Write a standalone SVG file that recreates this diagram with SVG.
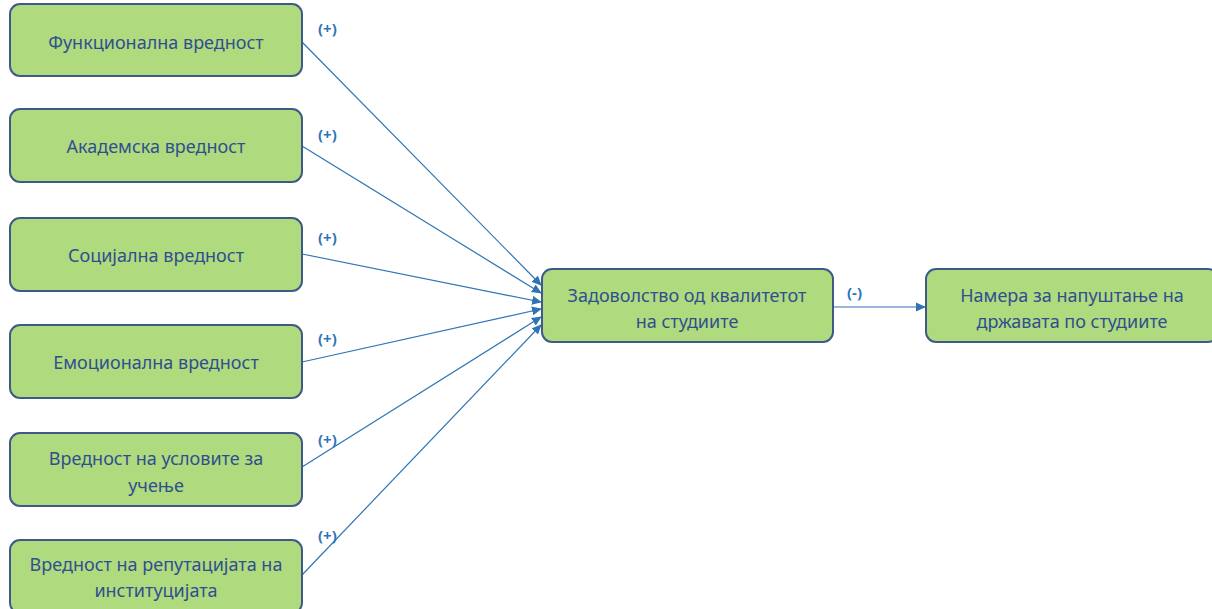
<svg xmlns="http://www.w3.org/2000/svg" width="1212" height="609" viewBox="0 0 1212 609">
<style>
.box{fill:#AFDA7E;stroke:#3F5A8A;stroke-width:2}
.t{font-family:"Noto Sans","Liberation Sans",sans-serif;font-size:18px;fill:#2F4F8F;text-anchor:middle;dominant-baseline:central}
.lab{font-family:"Noto Sans","Liberation Sans",sans-serif;font-size:15px;font-weight:bold;fill:#2E75B6;dominant-baseline:central}
.c{stroke:#2E75B6;stroke-width:1.2;fill:none;marker-end:url(#ah)}
</style>
<defs>
<marker id="ah" markerWidth="10" markerHeight="10" refX="9" refY="5" orient="auto" markerUnits="userSpaceOnUse">
<path d="M0,0.5 L10,5 L0,9.5 Z" fill="#2E75B6"/>
</marker>
</defs>
<rect width="1212" height="609" fill="#fff"/>
<g id="connectors">
<line class="c" x1="302" y1="42" x2="541" y2="285"/>
<line class="c" x1="302" y1="146" x2="541" y2="293"/>
<line class="c" x1="302" y1="254" x2="541" y2="302"/>
<line class="c" x1="302" y1="362" x2="541" y2="309"/>
<line class="c" x1="302" y1="467" x2="541" y2="317"/>
<line class="c" x1="302" y1="575" x2="541" y2="325"/>
<line class="c" x1="834" y1="307" x2="925" y2="307"/>
<text class="lab" x="318" y="28">(+)</text>
<text class="lab" x="318" y="134">(+)</text>
<text class="lab" x="318" y="237">(+)</text>
<text class="lab" x="318" y="338">(+)</text>
<text class="lab" x="318" y="439">(+)</text>
<text class="lab" x="318" y="535">(+)</text>
<text class="lab" x="847" y="292">(-)</text>
</g>
<g id="n1"><rect class="box" x="10" y="4" width="292" height="72" rx="10"/><text class="t" x="156" y="42">Функционална вредност</text></g>
<g id="n2"><rect class="box" x="10" y="109" width="292" height="73" rx="10"/><text class="t" x="156" y="146">Академска вредност</text></g>
<g id="n3"><rect class="box" x="10" y="218" width="292" height="73" rx="10"/><text class="t" x="156" y="255">Социјална вредност</text></g>
<g id="n4"><rect class="box" x="10" y="325" width="292" height="73" rx="10"/><text class="t" x="156" y="362">Емоционална вредност</text></g>
<g id="n5"><rect class="box" x="10" y="433" width="292" height="73" rx="10"/><text class="t" x="156" y="458">Вредност на условите за</text><text class="t" x="156" y="485">учење</text></g>
<g id="n6"><rect class="box" x="10" y="540" width="292" height="73" rx="10"/><text class="t" x="156" y="564">Вредност на репутацијата на</text><text class="t" x="156" y="590">институцијата</text></g>
<g id="n7"><rect class="box" x="542" y="269" width="291" height="73" rx="10"/><text class="t" x="687" y="295">Задоволство од квалитетот</text><text class="t" x="687" y="321">на студиите</text></g>
<g id="n8"><rect class="box" x="926" y="269" width="292" height="73" rx="10"/><text class="t" x="1072" y="295">Намера за напуштање на</text><text class="t" x="1072" y="321">државата по студиите</text></g>
</svg>
